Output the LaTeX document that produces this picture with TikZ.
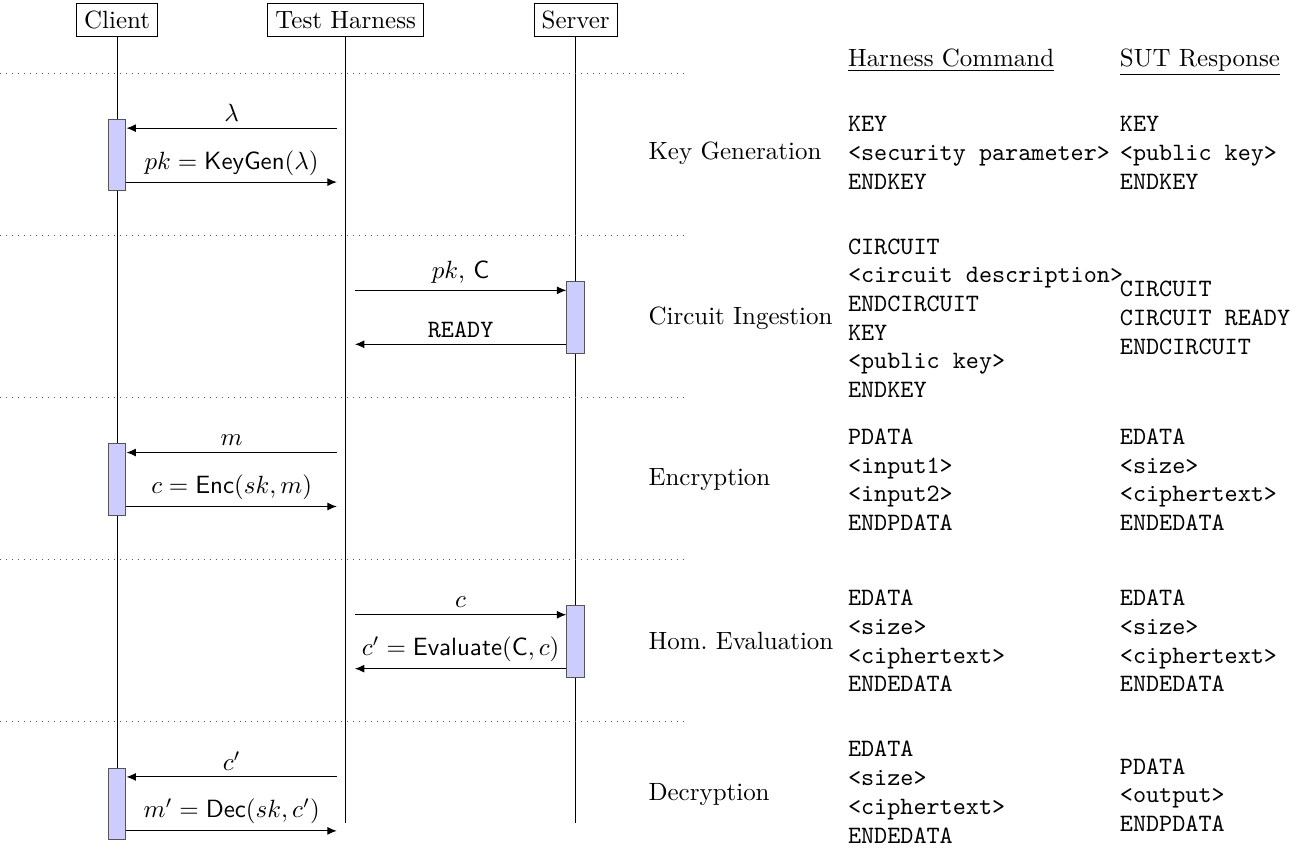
\documentclass[tikz,border=0pt]{standalone}
\usepackage{xcolor}
\usepackage{tikz}
\usetikzlibrary{arrows.meta,positioning,calc}
\definecolor{lila}{HTML}{CCCCFF}
\definecolor{gris}{HTML}{555555}
\newcommand{\fn}[1]{\mathsf{#1}}
\tikzset{
  actor/.style={draw,inner sep=3pt},
  vida/.style={draw=black},
  activa/.style={draw=gris,fill=lila,minimum width=2.5mm,minimum height=10.1mm,inner sep=0pt},
  mensaje/.style={-{Latex[length=3.8pt,width=3.2pt]}},
  etiqueta/.style={above,inner sep=2.5pt},
  separador/.style={dotted,gris},
  fase/.style={anchor=west,inner sep=0pt},
  orden/.style={anchor=west,align=left,font=\fontsize{10}{11.5}\ttfamily,inner sep=0pt},
  cabecera/.style={anchor=base west,inner sep=0pt},
}

\begin{document}
\begin{tikzpicture}
  \useasboundingbox (0,0) rectangle (18.3,-12);
  % actores y lineas de vida
  \node[actor] (cli) at (1.65,-0.28) {Client};
  \node[actor] (har) at (4.87,-0.28) {Test Harness};
  \node[actor] (srv) at (8.11,-0.28) {Server};
  \coordinate (fin) at (0,-11.59);
  \foreach \a in {cli,har,srv}
    \draw[vida] (\a.south) -- (\a.south |- fin);
  % separadores de fase
  \foreach \k in {0,...,4}
    \draw[separador] (0,{-1.03-2.285*\k}) -- (9.62,{-1.03-2.285*\k});
  % activaciones
  \node[activa] (a1) at (1.65,-2.185) {};
  \node[activa] (a2) at (8.11,-4.47) {};
  \node[activa] (a3) at (1.65,-6.755) {};
  \node[activa] (a4) at (8.11,-9.04) {};
  \node[activa] (a5) at (1.65,-11.325) {};
  % extremos junto al harness
  \coordinate (h1) at (4.745,-1.805);  \coordinate (h2) at (4.745,-2.565);
  \coordinate (h3) at (5.0,-4.09);     \coordinate (h4) at (5.0,-4.85);
  \coordinate (h5) at (4.745,-6.375);  \coordinate (h6) at (4.745,-7.135);
  \coordinate (h7) at (5.0,-8.66);     \coordinate (h8) at (5.0,-9.42);
  \coordinate (h9) at (4.745,-10.945); \coordinate (h10) at (4.745,-11.705);
  % mensajes
  \draw[mensaje] (h1) -- node[etiqueta] {$\lambda$} (a1.east |- h1);
  \draw[mensaje] (a1.east |- h2) -- node[etiqueta] {$pk = \fn{KeyGen}(\lambda)$} (h2);
  \draw[mensaje] (h3) -- node[etiqueta] {$pk$, $\fn{C}$} (a2.west |- h3);
  \draw[mensaje] (a2.west |- h4) -- node[etiqueta] {\texttt{READY}} (h4);
  \draw[mensaje] (h5) -- node[etiqueta] {$m$} (a3.east |- h5);
  \draw[mensaje] (a3.east |- h6) -- node[etiqueta] {$c = \fn{Enc}(sk, m)$} (h6);
  \draw[mensaje] (h7) -- node[etiqueta] {$c$} (a4.west |- h7);
  \draw[mensaje] (a4.west |- h8) -- node[etiqueta] {$c' = \fn{Evaluate}(\fn{C}, c)$} (h8);
  \draw[mensaje] (h9) -- node[etiqueta] {$c'$} (a5.east |- h9);
  \draw[mensaje] (a5.east |- h10) -- node[etiqueta] {$m' = \fn{Dec}(sk, c')$} (h10);
  % tabla de comandos
  \node[cabecera] (hcmd) at (11.94,-0.93) {\underline{Harness Command}};
  \node[cabecera] (hsut) at (15.77,-0.93) {\underline{SUT Response}};
  \node[fase] (f1) at (9.13,-2.155) {Key Generation};
  \node[orden] (c1) at (11.94,-2.155) {KEY\\<security parameter>\\ENDKEY};
  \node[orden] (r1) at (15.77,-2.155) {KEY\\<public key>\\ENDKEY};
  \node[fase] (f2) at (9.13,-4.48) {Circuit Ingestion};
  \node[orden] (c2) at (11.94,-4.48) {CIRCUIT\\<circuit description>\\ENDCIRCUIT\\KEY\\<public key>\\ENDKEY};
  \node[orden] (r2) at (15.77,-4.48) {CIRCUIT\\CIRCUIT READY\\ENDCIRCUIT};
  \node[fase] (f3) at (9.13,-6.76) {Encryption};
  \node[orden] (c3) at (11.94,-6.76) {PDATA\\<input1>\\<input2>\\ENDPDATA};
  \node[orden] (r3) at (15.77,-6.76) {EDATA\\<size>\\<ciphertext>\\ENDEDATA};
  \node[fase] (f4) at (9.13,-9.03) {Hom.\ Evaluation};
  \node[orden] (c4) at (11.94,-9.03) {EDATA\\<size>\\<ciphertext>\\ENDEDATA};
  \node[orden] (r4) at (15.77,-9.03) {EDATA\\<size>\\<ciphertext>\\ENDEDATA};
  \node[fase] (f5) at (9.13,-11.2) {Decryption};
  \node[orden] (c5) at (11.94,-11.16) {EDATA\\<size>\\<ciphertext>\\ENDEDATA};
  \node[orden] (r5) at (15.77,-11.2) {PDATA\\<output>\\ENDPDATA};
\end{tikzpicture}
\end{document}
